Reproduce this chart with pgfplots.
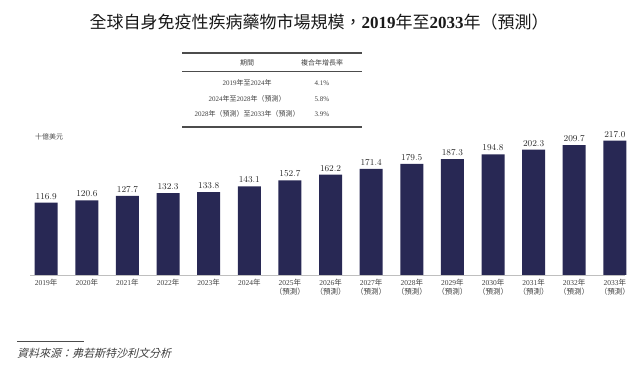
\documentclass[border=0pt]{standalone}
\usepackage{pgfplots}
\pgfplotsset{compat=1.18}
\usepackage{fontspec}
\setmainfont{Liberation Serif}
\newfontfamily\cjk{Noto Sans CJK TC}
\newfontfamily\cjksl{Noto Sans CJK TC}[FakeSlant=0.25]
\definecolor{barc}{RGB}{40,40,84}
\newcommand\nian{{\cjk 年}}
\newcommand\zhi{{\cjk 至}}
\newcommand\yc{{\cjk （預測）}}
\begin{document}
\begin{tikzpicture}
\path[use as bounding box] (0pt,0pt) rectangle (640pt,371pt);
% title
\node[font=\fontsize{17}{18}\selectfont, text=black!90] at (319pt,349pt)
  {{\cjk 全球自身免疫性疾病藥物市場規模，}\textbf{2019}{\cjk 年至}\textbf{2033}{\cjk 年（預測）}};
% table
\draw[line width=1.3pt, black!70] (182pt,318pt) -- (362pt,318pt);
\draw[line width=1.0pt, black!70] (182pt,299pt) -- (362pt,299pt);
\draw[line width=2pt, black!70] (182pt,244pt) -- (362pt,244pt);
\begin{scope}[every node/.style={font=\fontsize{7}{8}\selectfont, text=black!75}]
\node at (247pt,308pt) {\cjk 期間};
\node at (322pt,308pt) {\cjk 複合年增長率};
\node at (247pt,288pt) {2019\nian\zhi2024\nian};
\node at (322pt,288pt) {4.1\%};
\node at (247pt,272pt) {2024\nian\zhi2028\nian\yc};
\node at (322pt,272pt) {5.8\%};
\node at (247pt,257pt) {2028\nian\yc\zhi2033\nian\yc};
\node at (322pt,257pt) {3.9\%};
\end{scope}
% unit
\node[font=\fontsize{7}{8}\selectfont, text=black!70] at (49pt,234pt) {\cjk 十億美元};
% source
\draw[line width=0.5pt, black!70] (17pt,30pt) -- (84pt,30pt);
\node[anchor=west, font=\fontsize{11}{12}\selectfont, text=black!75, inner sep=0pt] at (17pt,18pt) {\cjksl 資料來源：弗若斯特沙利文分析};
\begin{axis}[
  at={(30pt,96pt)}, anchor=south west, scale only axis,
  width=595pt, height=142.4pt,
  xmin=-0.4, xmax=14.25, ymin=0, ymax=230,
  hide y axis, axis x line*=bottom,
  x axis line style={draw=black!25, line width=0.6pt},
  xtick={0,...,14}, major tick length=0pt,
  xticklabels={2019\nian,2020\nian,2021\nian,2022\nian,2023\nian,2024\nian,
    2025\nian\\\yc,2026\nian\\\yc,2027\nian\\\yc,2028\nian\\\yc,2029\nian\\\yc,
    2030\nian\\\yc,2031\nian\\\yc,2032\nian\\\yc,2033\nian\\\yc},
  xticklabel style={font=\fontsize{7.5}{8.5}\selectfont, align=center, text=black!75, anchor=north, inner sep=2pt, yshift=-2pt},
  ybar, bar width=23pt,
  nodes near coords={\pgfmathprintnumber[fixed,fixed zerofill,precision=1]{\pgfplotspointmeta}},
  every node near coord/.append style={font=\fontsize{9}{10}\selectfont, text=black!85},
  clip=false,
]
\addplot[fill=barc, draw=none] coordinates {
(0,116.9) (1,120.6) (2,127.7) (3,132.3) (4,133.8) (5,143.1) (6,152.7) (7,162.2)
(8,171.4) (9,179.5) (10,187.3) (11,194.8) (12,202.3) (13,209.7) (14,217.0)};
\end{axis}
\end{tikzpicture}
\end{document}
